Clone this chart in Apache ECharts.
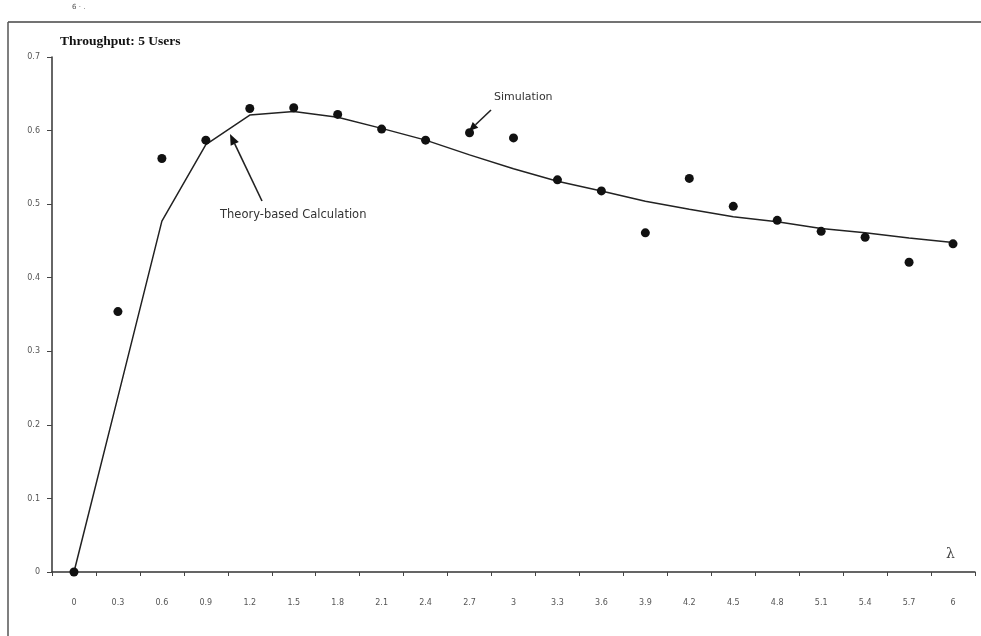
<!DOCTYPE html>
<html>
<head>
<meta charset="utf-8">
<script src="https://cdn.jsdelivr.net/npm/echarts@6/dist/echarts.min.js"></script>
<style>
  html, body { margin: 0; padding: 0; background: #fff; }
  #chart { width: 981px; height: 636px; }
</style>
</head>
<body>
<div id="chart"></div>
<script>
// Arrival rate λ (category labels along the x axis)
const lambdaLabels = ['0', '0.3', '0.6', '0.9', '1.2', '1.5', '1.8', '2.1', '2.4', '2.7', '3',
                      '3.3', '3.6', '3.9', '4.2', '4.5', '4.8', '5.1', '5.4', '5.7', '6'];

// Throughput from the analytical model
const theoryThroughput = [0, 0.238, 0.477, 0.581, 0.621, 0.626, 0.618, 0.603, 0.587, 0.567, 0.548,
                          0.531, 0.518, 0.504, 0.493, 0.483, 0.476, 0.467, 0.461, 0.454, 0.448];

// Throughput measured in simulation runs
const simulatedThroughput = [0, 0.354, 0.562, 0.587, 0.630, 0.631, 0.622, 0.602, 0.587, 0.597, 0.590,
                             0.533, 0.518, 0.461, 0.535, 0.497, 0.478, 0.463, 0.455, 0.421, 0.446];

// Y axis range
const yMin = 0, yMax = 0.7, yStep = 0.1;

const chart = echarts.init(document.getElementById('chart'));

// Builds a straight arrow (shaft + filled head) between two pixel points
function arrow(x1, y1, x2, y2, headLen, headWidth) {
  const dx = x2 - x1, dy = y2 - y1;
  const len = Math.sqrt(dx * dx + dy * dy);
  const ux = dx / len, uy = dy / len;
  const bx = x2 - ux * headLen, by = y2 - uy * headLen;
  const px = -uy * headWidth / 2, py = ux * headWidth / 2;
  return [
    { type: 'line', shape: { x1: x1, y1: y1, x2: bx, y2: by },
      style: { stroke: '#222', lineWidth: 1.6 }, silent: true },
    { type: 'polygon', shape: { points: [[x2, y2], [bx + px, by + py], [bx - px, by - py]] },
      style: { fill: '#111' }, silent: true }
  ];
}

const tickFont = { fontFamily: 'DejaVu Sans', fontSize: 8, color: '#555' };

chart.setOption({
  animation: false,
  backgroundColor: '#ffffff',
  grid: { left: 52, right: 6, top: 57, bottom: 64 },
  xAxis: {
    type: 'category',
    data: lambdaLabels,
    boundaryGap: true,
    axisLine: { lineStyle: { color: '#333', width: 1.5 } },
    axisTick: { show: true, inside: false, length: 4, lineStyle: { color: '#444', width: 1 } },
    axisLabel: Object.assign({ margin: 27 }, tickFont),
    splitLine: { show: false }
  },
  yAxis: {
    type: 'value',
    min: yMin, max: yMax, interval: yStep,
    axisLine: { show: true, lineStyle: { color: '#333', width: 1.5 } },
    axisTick: { show: true, inside: false, length: 5, lineStyle: { color: '#444', width: 1 } },
    axisLabel: Object.assign({ margin: 12, formatter: v => String(+v.toFixed(1)) }, tickFont),
    splitLine: { show: false }
  },
  series: [
    {
      name: 'Theory-based Calculation',
      type: 'line',
      data: theoryThroughput,
      showSymbol: false,
      symbol: 'none',
      lineStyle: { color: '#222', width: 1.5 },
      z: 2
    },
    {
      name: 'Simulation',
      type: 'scatter',
      data: simulatedThroughput,
      symbol: 'circle',
      symbolSize: 9,
      itemStyle: { color: '#111', opacity: 1 },
      z: 3
    }
  ],
  graphic: [
    // page frame
    { type: 'line', shape: { x1: 8, y1: 22, x2: 981, y2: 22 }, style: { stroke: '#444', lineWidth: 1.5 }, silent: true },
    { type: 'line', shape: { x1: 8, y1: 22, x2: 8, y2: 636 }, style: { stroke: '#555', lineWidth: 1.5 }, silent: true },
    { type: 'text', left: 72, top: 4, style: { text: '6 · .', font: '7px DejaVu Sans', fill: '#555' }, silent: true },
    // title
    { type: 'text', left: 60, top: 35,
      style: { text: 'Throughput: 5 Users', font: 'bold 13.5px "Liberation Serif"', fill: '#111' }, silent: true },
    // axis symbol
    { type: 'text', left: 946, top: 547,
      style: { text: 'λ', font: '14px "DejaVu Serif"', fill: '#444' }, silent: true },
    // annotations
    { type: 'text', left: 494, top: 92,
      style: { text: 'Simulation', font: '11px "DejaVu Sans"', fill: '#333' }, silent: true },
    { type: 'text', left: 220, top: 209,
      style: { text: 'Theory-based Calculation', font: '11.5px "DejaVu Sans"', fill: '#333' }, silent: true }
  ].concat(arrow(491, 110, 469, 131, 9, 8))
   .concat(arrow(262, 201, 230, 134, 11, 9))
});
</script>
</body>
</html>
